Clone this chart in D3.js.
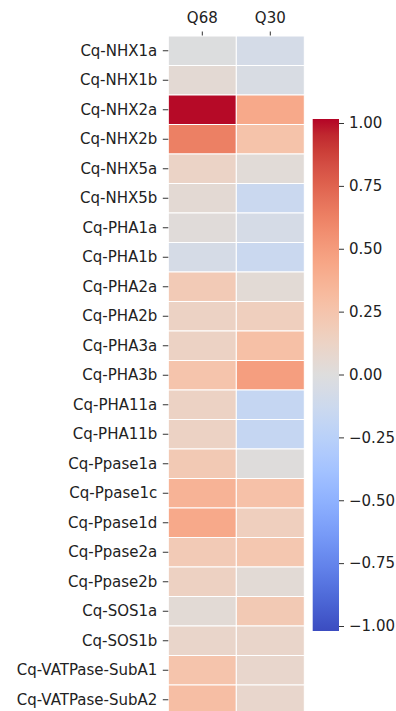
<!DOCTYPE html>
<html>
<head>
<meta charset="utf-8">
<script src="https://cdn.jsdelivr.net/npm/d3@7"></script>
<style>
  html, body { margin: 0; padding: 0; background: #fff; }
  svg { display: block; }
  text { font-family: "DejaVu Sans", sans-serif; fill: #222; }
</style>
</head>
<body>
<svg id="chart" width="396" height="711"></svg>
<script>
const genes = ["Cq-NHX1a","Cq-NHX1b","Cq-NHX2a","Cq-NHX2b","Cq-NHX5a","Cq-NHX5b",
  "Cq-PHA1a","Cq-PHA1b","Cq-PHA2a","Cq-PHA2b","Cq-PHA3a","Cq-PHA3b","Cq-PHA11a","Cq-PHA11b",
  "Cq-Ppase1a","Cq-Ppase1c","Cq-Ppase1d","Cq-Ppase2a","Cq-Ppase2b","Cq-SOS1a","Cq-SOS1b",
  "Cq-VATPase-SubA1","Cq-VATPase-SubA2"];
const samples = ["Q68","Q30"];
const q68 = [-0.01,0.05,0.99,0.62,0.12,0.05,0.02,-0.06,0.20,0.13,0.13,0.25,0.13,0.13,
  0.21,0.36,0.42,0.20,0.14,0.04,0.10,0.25,0.29];
const q30 = [-0.07,-0.04,0.42,0.26,0.03,-0.14,-0.06,-0.14,0.04,0.16,0.28,0.48,-0.17,-0.17,
  0.01,0.27,0.16,0.23,0.04,0.21,0.10,0.09,0.09];
const colorbarTicks = [-1,-0.75,-0.5,-0.25,0,0.25,0.5,0.75,1];

// matplotlib "coolwarm" (Moreland) control colours
const coolwarm = [[59,76,192],[68,90,204],[77,104,215],[87,117,225],[98,130,234],[108,142,241],
  [119,154,247],[130,165,251],[141,176,254],[152,185,255],[163,194,255],[174,201,253],
  [184,208,249],[194,213,244],[204,217,238],[213,219,230],[221,221,221],[229,216,209],
  [236,211,197],[241,204,184],[245,196,172],[247,187,159],[247,177,147],[247,166,134],
  [244,154,123],[241,141,111],[236,127,99],[229,112,89],[222,96,77],[213,80,69],
  [203,62,56],[192,40,47],[180,4,38]].map(c => d3.rgb(c[0],c[1],c[2]).formatHex());
const color = d3.scaleSequential(d3.piecewise(d3.interpolateRgb, coolwarm)).domain([-1, 1]);

const series = {Q68: q68, Q30: q30};
const cells = [];
genes.forEach((g, i) => samples.forEach(s => cells.push({gene: g, sample: s, v: series[s][i]})));

const svg = d3.select("#chart");
const mLeft = 168.3, mTop = 36, colW = 68, rowH = 29.5;

const x = d3.scaleBand().domain(samples).range([mLeft, mLeft + colW * samples.length]);
const y = d3.scaleBand().domain(genes).range([mTop, mTop + rowH * genes.length]);

svg.append("g").selectAll("rect").data(cells).join("rect")
  .attr("x", d => x(d.sample))
  .attr("y", d => y(d.gene))
  .attr("width", x.bandwidth())
  .attr("height", y.bandwidth())
  .attr("fill", d => color(d.v))
  .attr("stroke", "#ffffff")
  .attr("stroke-width", 1);

const yAxis = svg.append("g").attr("transform", `translate(${mLeft},0)`)
  .call(d3.axisLeft(y).tickSize(5.5).tickPadding(5.5));
yAxis.select(".domain").remove();
yAxis.selectAll("text").style("font-size", "15px");
yAxis.selectAll("line").attr("stroke", "#333");

const xAxis = svg.append("g").attr("transform", `translate(0,${mTop - 0.5})`)
  .call(d3.axisTop(x).tickSize(4).tickPadding(8.5));
xAxis.select(".domain").remove();
xAxis.selectAll("text").style("font-size", "15px");
xAxis.selectAll("line").attr("stroke", "#333");

// colour bar
const cbX = 312.7, cbW = 26.3, cbTop = 119, cbBot = 631;
const cbScale = d3.scaleLinear().domain([1, -1]).range([cbTop + 4, cbBot - 5]);
const defs = svg.append("defs");
const grad = defs.append("linearGradient").attr("id", "cbgrad")
  .attr("x1", 0).attr("y1", 1).attr("x2", 0).attr("y2", 0);
d3.range(0, 1.0001, 1 / 32).forEach(t => {
  grad.append("stop").attr("offset", t).attr("stop-color", color(-1 + 2 * t));
});
svg.append("rect").attr("x", cbX).attr("y", cbTop).attr("width", cbW).attr("height", cbBot - cbTop)
  .attr("fill", "url(#cbgrad)");
const cbAxis = svg.append("g").attr("transform", `translate(${cbX + cbW},0)`)
  .call(d3.axisRight(cbScale).tickValues(colorbarTicks).tickFormat(d3.format(".2f")).tickSize(5).tickPadding(5));
cbAxis.select(".domain").remove();
cbAxis.selectAll("text").style("font-size", "15px");
cbAxis.selectAll("line").attr("stroke", "#333");
</script>
</body>
</html>
